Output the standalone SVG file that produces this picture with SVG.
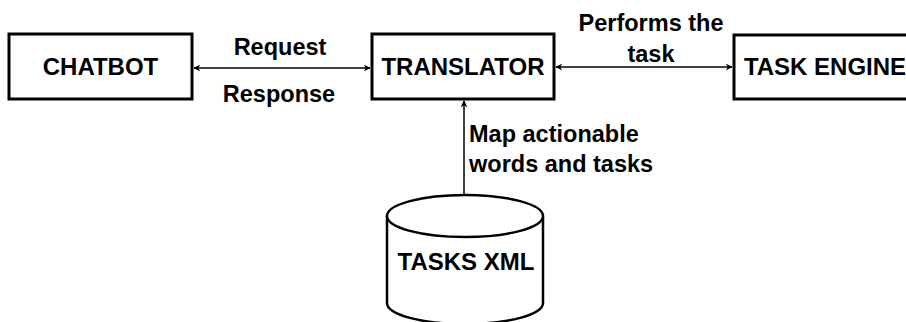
<svg xmlns="http://www.w3.org/2000/svg" width="906" height="322" viewBox="0 0 906 322">
  <style>
    .box { fill: #ffffff; stroke: #000000; stroke-width: 3; }
    .cyl { fill: #ffffff; stroke: #000000; stroke-width: 2.5; }
    .edge { fill: none; stroke: #000000; stroke-width: 1.5; }
    text { font-family: "Liberation Sans", Arial, sans-serif; font-weight: bold; fill: #000000; }
    .node-label { font-size: 24px; text-anchor: middle; }
    .edge-label { font-size: 23.5px; }
    .mid { text-anchor: middle; }
  </style>
  <defs>
    <marker id="arrow" viewBox="0 0 10 10" refX="9" refY="5" markerWidth="7" markerHeight="7" markerUnits="userSpaceOnUse" orient="auto-start-reverse">
      <path d="M0,0 L10,5 L0,10 L3,5 Z" fill="#000000"/>
    </marker>
  </defs>

  <g id="connectors">
    <line class="edge" x1="194" y1="68" x2="370" y2="68" marker-start="url(#arrow)" marker-end="url(#arrow)"/>
    <line class="edge" x1="556" y1="67" x2="732" y2="67" marker-start="url(#arrow)" marker-end="url(#arrow)"/>
    <line class="edge" x1="464" y1="195" x2="464" y2="101" marker-end="url(#arrow)"/>
    <text class="edge-label mid" x="280" y="55">Request</text>
    <text class="edge-label mid" x="279" y="102">Response</text>
    <text class="edge-label mid" x="651" y="31">Performs the</text>
    <text class="edge-label mid" x="651" y="62">task</text>
    <text class="edge-label" x="469" y="142">Map actionable</text>
    <text class="edge-label" x="469" y="172">words and tasks</text>
  </g>

  <g id="chatbot">
    <rect class="box" x="9" y="34" width="183" height="65"/>
    <text class="node-label" x="100.5" y="75">CHATBOT</text>
  </g>

  <g id="translator">
    <rect class="box" x="372" y="34" width="182" height="65"/>
    <text class="node-label" x="463" y="75">TRANSLATOR</text>
  </g>

  <g id="task-engine">
    <rect class="box" x="734" y="35" width="182" height="64"/>
    <text class="node-label" x="825" y="75">TASK ENGINE</text>
  </g>

  <g id="tasks-xml">
    <path class="cyl" d="M387,216 L387,303 A78,21 0 0 0 543,303 L543,216 A78,21 0 0 0 387,216 Z"/>
    <path class="cyl" d="M387,216 A78,21 0 0 0 543,216" fill="none"/>
    <text class="node-label" x="466" y="270">TASKS XML</text>
  </g>
</svg>
